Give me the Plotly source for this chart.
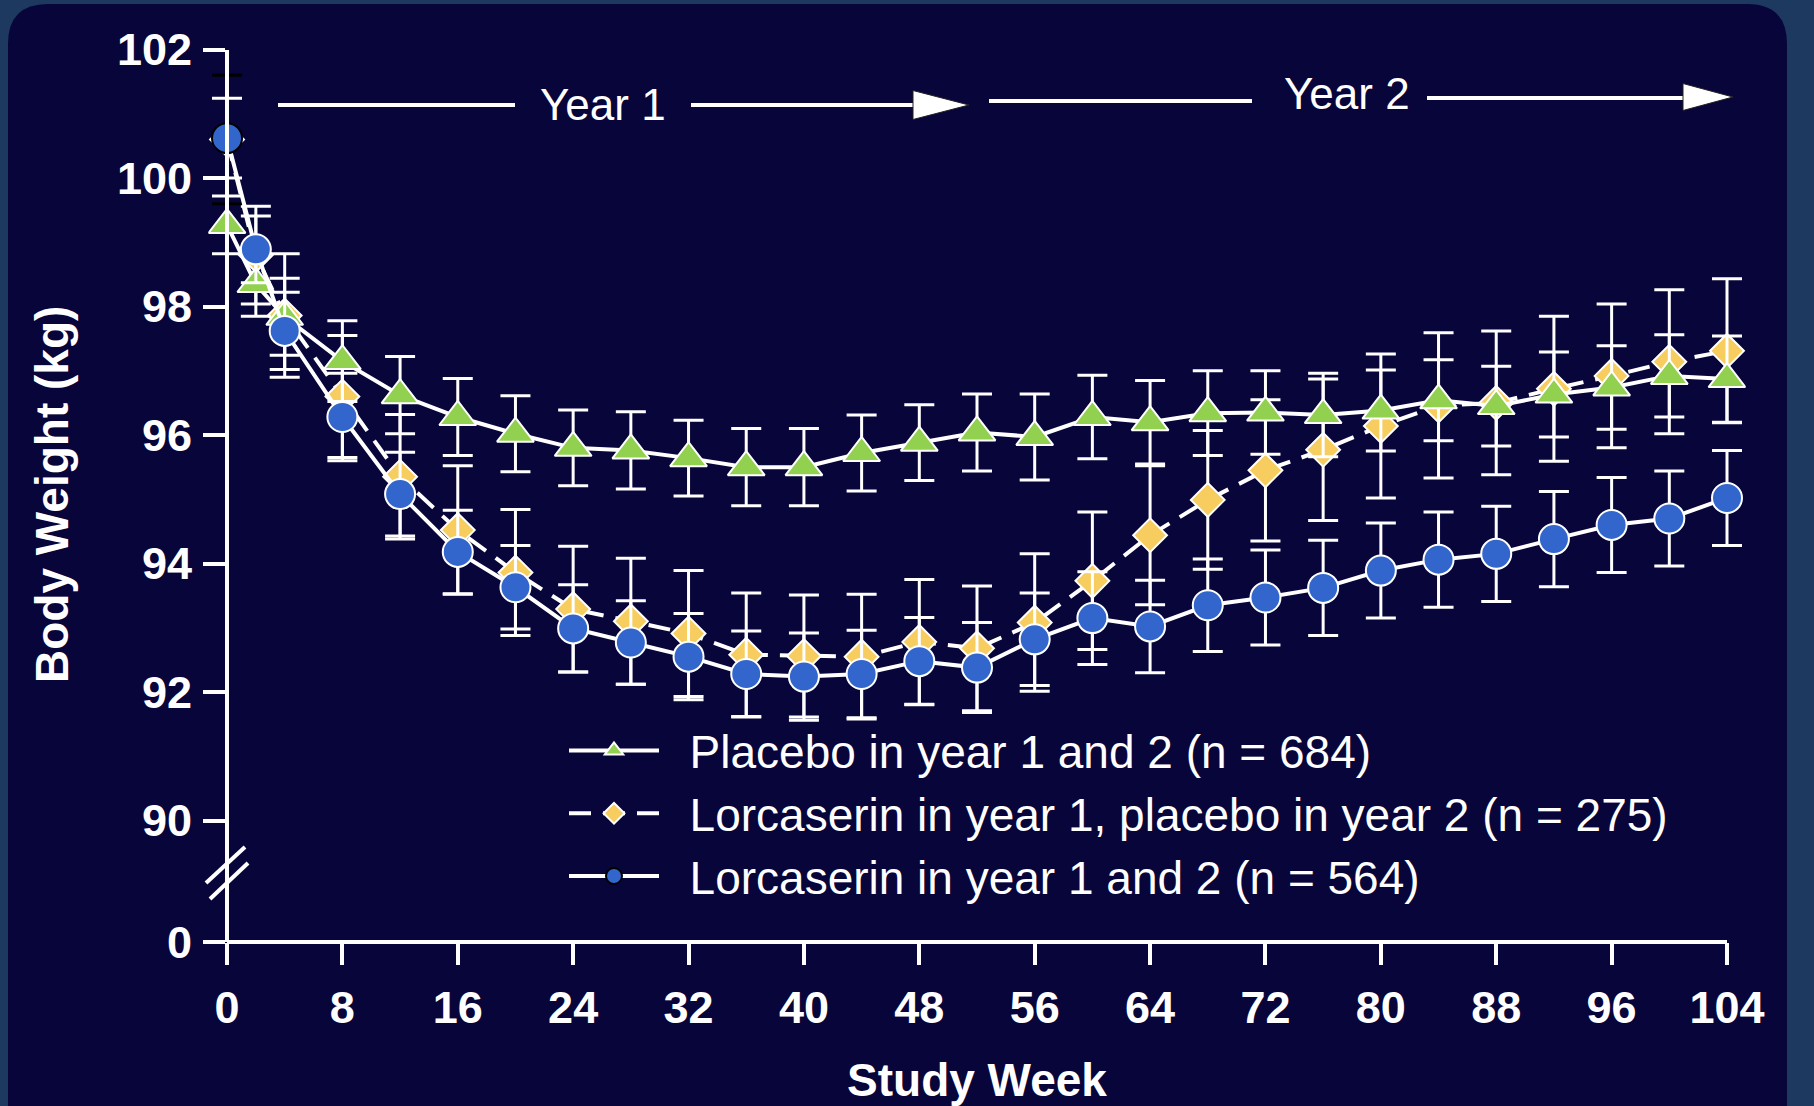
import plotly.graph_objects as go

# ---- data: mean body weight (kg) by study week, with error-bar half widths ----
weeks = [0, 2, 4, 8, 12, 16, 20, 24, 28, 32, 36, 40, 44, 48, 52,
         56, 60, 64, 68, 72, 76, 80, 84, 88, 92, 96, 100, 104]

placebo = [99.27, 98.35, 97.84, 97.15, 96.62, 96.28, 96.02, 95.80, 95.76, 95.64,
           95.50, 95.50, 95.72, 95.88, 96.04, 95.97, 96.28, 96.20, 96.34, 96.35,
           96.31, 96.38, 96.54, 96.45, 96.63, 96.74, 96.92, 96.87]
placebo_err = [0.45, 0.50, 0.60, 0.63, 0.60, 0.60, 0.59, 0.59, 0.60, 0.59,
               0.60, 0.60, 0.59, 0.59, 0.60, 0.67, 0.65, 0.65, 0.66, 0.65,
               0.65, 0.63, 0.63, 0.62, 0.66, 0.65, 0.64, 0.67]

lorc_then_placebo = [100.60, 98.80, 97.86, 96.60, 95.35, 94.52, 93.86, 93.29, 93.10, 92.91,
                     92.58, 92.56, 92.55, 92.78, 92.68, 93.08, 93.73, 94.44, 94.99, 95.45,
                     95.77, 96.14, 96.46, 96.50, 96.72, 96.92, 97.14, 97.31]
lorc_then_placebo_err = [1.00, 0.76, 0.96, 0.95, 0.97, 1.00, 0.98, 0.98, 0.98, 0.98,
                         0.96, 0.95, 0.97, 0.97, 0.97, 1.07, 1.07, 1.08, 1.08, 1.10,
                         1.10, 1.12, 1.13, 1.12, 1.13, 1.12, 1.12, 1.12]

lorc = [100.62, 98.89, 97.62, 96.28, 95.08, 94.18, 93.63, 92.99, 92.77, 92.55,
        92.28, 92.24, 92.28, 92.48, 92.38, 92.82, 93.15, 93.02, 93.35, 93.47,
        93.62, 93.89, 94.06, 94.15, 94.38, 94.60, 94.70, 95.02]
lorc_err = [0.62, 0.52, 0.60, 0.68, 0.65, 0.65, 0.65, 0.68, 0.65, 0.67,
            0.67, 0.68, 0.68, 0.68, 0.70, 0.72, 0.72, 0.72, 0.72, 0.74,
            0.74, 0.74, 0.74, 0.74, 0.74, 0.74, 0.74, 0.74]

names = ["Placebo in year 1 and 2 (n = 684)",
         "Lorcaserin in year 1, placebo in year 2 (n = 275)",
         "Lorcaserin in year 1 and 2 (n = 564)"]

x_ticks = [0, 8, 16, 24, 32, 40, 48, 56, 64, 72, 80, 88, 96, 104]
y_ticks = [90, 92, 94, 96, 98, 100, 102]
y_low_ticks = [0]

# ---- styling ----
W, H = 1814, 1106
NAVY = "#08053a"
FRAME = "#1d3960"
GREEN = "#92d050"
GOLD = "#f7cd5f"
BLUE = "#3366cc"
WHITE = "#ffffff"
FONT = "Liberation Sans, Arial, sans-serif"
LEGEND_PAD = "\u00a0\u00a0"

# pixel layout of the axes
X0_PX, X1_PX = 227, 1727          # week 0 and week 104
Y_TOP_PX, Y_BREAK_PX, Y_BOT_PX = 49.5, 873, 942
X_PAD = 1.3                        # extra weeks on each side so end caps are not clipped


def fx(px):
    return px / W


def fy(py):
    return 1 - py / H


px_per_week = (X1_PX - X0_PX) / (x_ticks[-1] - x_ticks[0])
x_range = [x_ticks[0] - X_PAD, x_ticks[-1] + X_PAD]
x_domain = [fx(X0_PX - X_PAD * px_per_week), fx(X1_PX + X_PAD * px_per_week)]


def err(values, color, show_first=True):
    arr = list(values)
    if not show_first:
        arr[0] = 0
    return dict(type="data", array=arr, symmetric=True, color=color,
                thickness=3, width=15, visible=True)


fig = go.Figure()

fig.add_trace(go.Scatter(
    x=weeks, y=lorc_then_placebo, name=LEGEND_PAD + names[1], legendrank=2,
    mode="lines+markers",
    line=dict(color=WHITE, width=4, dash="22px,12px"),
    marker=dict(symbol="diamond", size=26, color=GOLD, line=dict(color=WHITE, width=2)),
    error_y=err(lorc_then_placebo_err, WHITE, show_first=False),
))

# baseline error bar of the lorcaserin/placebo arm, drawn in black
fig.add_trace(go.Scatter(
    x=weeks[:1], y=lorc_then_placebo[:1], showlegend=False, hoverinfo="skip",
    mode="markers", marker=dict(size=1, opacity=0),
    error_y=err(lorc_then_placebo_err[:1], "#000000"),
))

fig.add_trace(go.Scatter(
    x=weeks, y=placebo, name=LEGEND_PAD + names[0], legendrank=1,
    mode="lines+markers",
    line=dict(color=WHITE, width=4),
    marker=dict(symbol="triangle-up", size=32, color=GREEN, line=dict(color=WHITE, width=2)),
    error_y=err(placebo_err, WHITE),
))

fig.add_trace(go.Scatter(
    x=weeks, y=lorc, name=LEGEND_PAD + names[2], legendrank=3,
    mode="lines+markers",
    line=dict(color=WHITE, width=4),
    marker=dict(symbol="circle", size=30, color=BLUE,
                line=dict(color=["#000000"] + [WHITE] * (len(weeks) - 1), width=2)),
    error_y=err(lorc_err, WHITE),
))

# empty trace so the short lower axis segment (the "0" below the break) is drawn
fig.add_trace(go.Scatter(x=[], y=[], yaxis="y2", showlegend=False, hoverinfo="skip"))

axis_common = dict(
    showline=True, linecolor=WHITE, linewidth=4, automargin=False,
    ticks="outside", ticklen=22, tickwidth=4, tickcolor=WHITE,
    showgrid=False, zeroline=False,
    tickfont=dict(family=FONT, size=45, color=WHITE, weight="bold"),
)

shapes = []
# navy panel with rounded top corners
x0, x1, y0, y1, r = fx(8), fx(1787), fy(4), fy(1130), 40
rx, ry = r / W, r / H
panel = (f"M {x0},{y0 - ry} Q {x0},{y0} {x0 + rx},{y0} "
         f"L {x1 - rx},{y0} Q {x1},{y0} {x1},{y0 - ry} "
         f"L {x1},{y1} L {x0},{y1} Z")
shapes.append(dict(type="path", path=panel, xref="paper", yref="paper",
                   fillcolor=NAVY, line=dict(width=0), layer="below"))

# x axis line, spanning the first to the last week tick
shapes.append(dict(type="line", xref="x", yref="paper",
                   x0=x_ticks[0], x1=x_ticks[-1], y0=fy(Y_BOT_PX), y1=fy(Y_BOT_PX),
                   line=dict(color=WHITE, width=4)))

# axis break marks
for (ax, ay, bx, by) in [(206, 883, 245, 847), (210, 899, 248, 863)]:
    shapes.append(dict(type="line", xref="paper", yref="paper",
                       x0=fx(ax), y0=fy(ay), x1=fx(bx), y1=fy(by),
                       line=dict(color=WHITE, width=4)))

# "Year" arrows
for (ax, bx, yy) in [(278, 515, 105), (691, 915, 105), (989, 1252, 101), (1427, 1686, 98)]:
    shapes.append(dict(type="line", xref="paper", yref="paper",
                       x0=fx(ax), y0=fy(yy), x1=fx(bx), y1=fy(yy),
                       line=dict(color=WHITE, width=4)))
for (bx, tx, yy, hh) in [(913, 969, 105, 14.5), (1683, 1733, 97, 13.5)]:
    head = (f"M {fx(bx)},{fy(yy - hh)} L {fx(tx)},{fy(yy)} "
            f"L {fx(bx)},{fy(yy + hh)} Z")
    shapes.append(dict(type="path", path=head, xref="paper", yref="paper",
                       fillcolor=WHITE, line=dict(color="#202020", width=1)))

annotations = [
    dict(text="Year 1", x=fx(603), y=fy(104), xref="paper", yref="paper",
         xanchor="center", yanchor="middle", showarrow=False,
         font=dict(family=FONT, size=44, color=WHITE)),
    dict(text="Year 2", x=fx(1347), y=fy(93), xref="paper", yref="paper",
         xanchor="center", yanchor="middle", showarrow=False,
         font=dict(family=FONT, size=44, color=WHITE)),
    dict(text="Body Weight (kg)", x=fx(52), y=fy(495), xref="paper", yref="paper",
         xanchor="center", yanchor="middle", showarrow=False, textangle=-90,
         font=dict(family=FONT, size=46, color=WHITE, weight="bold")),
]

fig.update_layout(
    width=W, height=H,
    margin=dict(l=0, r=0, t=0, b=0, autoexpand=False),
    paper_bgcolor=FRAME, plot_bgcolor="rgba(0,0,0,0)",
    showlegend=True,
    legend=dict(
        x=fx(564), y=fy(714), xanchor="left", yanchor="top",
        bgcolor="rgba(0,0,0,0)", borderwidth=0,
        font=dict(family=FONT, size=46, color=WHITE),
        itemwidth=90, traceorder="normal",
    ),
    xaxis=dict(
        domain=x_domain, range=x_range, anchor="y2",
        tickvals=x_ticks, ticklabelstandoff=4,
        title=dict(text="Study Week", standoff=33,
                   font=dict(family=FONT, size=46, color=WHITE, weight="bold")),
        **{**axis_common, "showline": False},
    ),
    yaxis=dict(
        domain=[fy(Y_BREAK_PX), fy(Y_TOP_PX)], range=[89.183, 102],
        anchor="free", position=fx(X0_PX),
        tickvals=y_ticks, ticklabelstandoff=2,
        **axis_common,
    ),
    yaxis2=dict(
        domain=[fy(Y_BOT_PX), fy(Y_BREAK_PX)], range=[0, 1],
        anchor="free", position=fx(X0_PX),
        tickvals=y_low_ticks, ticklabelstandoff=2,
        **axis_common,
    ),
    shapes=shapes,
    annotations=annotations,
)

fig.write_html("out.html")
